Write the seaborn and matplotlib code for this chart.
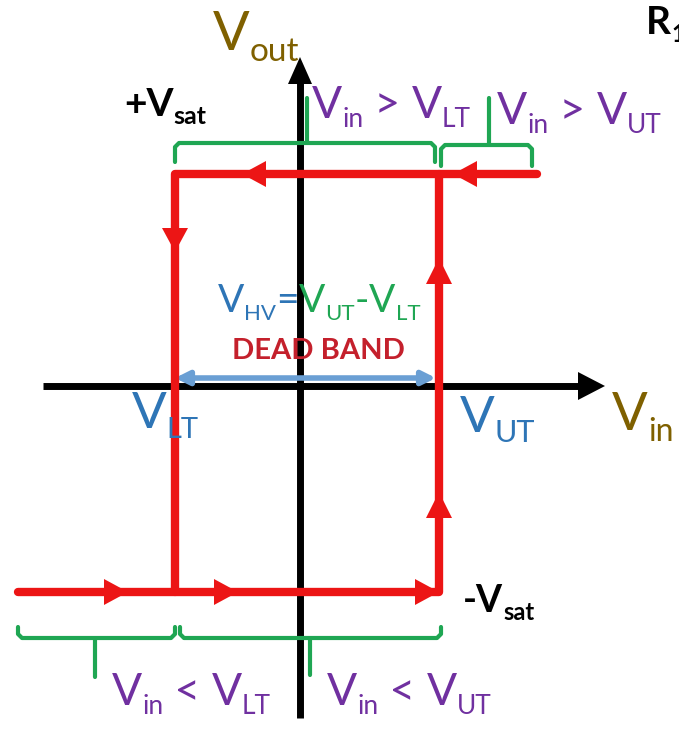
import numpy as np
import pandas as pd
import matplotlib
matplotlib.use('Agg')
import matplotlib.pyplot as plt
import seaborn as sns

# thresholds and saturation levels (plot units, origin = axis crossing)
V_LT = -1.25
V_UT = 1.39
V_SAT_POS = 2.12
V_SAT_NEG = -2.06
VIN_START = -2.82   # left end of the rising sweep
VIN_END = 2.37      # right end of the falling sweep

# the two branches of the loop
rise_vin = [VIN_START, V_UT, V_UT]
rise_vout = [V_SAT_NEG, V_SAT_NEG, V_SAT_POS]
fall_vin = [VIN_END, V_LT, V_LT]
fall_vout = [V_SAT_POS, V_SAT_POS, V_SAT_NEG]

# where the direction arrowheads sit (tip positions)
rise_flat_tips = [-1.72, -0.62, V_UT]
rise_up_tips = [-1.06, 1.28]
fall_flat_tips = [1.53, -0.58]
fall_down_tips = [1.34]

# ranges marked by the green braces
upper_ranges = [(V_LT, V_UT - 0.04), (V_UT + 0.02, 2.32)]
lower_ranges = [(VIN_START, V_LT), (V_LT + 0.05, V_UT + 0.02)]

RED = '#ec1515'
GREEN = '#1fa653'
PURPLE = '#7030a0'
BLUE = '#2e75b6'
OLIVE = '#7f6000'

sns.set_style('white')
plt.rcParams['font.family'] = ['Lato', 'DejaVu Sans']

fig = plt.figure(figsize=(6.79, 7.38), dpi=100)
ax = fig.add_axes([0, 0, 1, 1])
ax.set_xlim(-3.00, 3.79)
ax.set_ylim(-3.52, 3.86)
ax.axis('off')
renderer = fig.canvas.get_renderer()


def head(tip, direction, length, half, color, z):
    tx, ty = tip
    dx, dy = direction
    bx, by = tx - dx * length, ty - dy * length
    px, py = -dy * half, dx * half
    ax.fill([tx, bx + px, bx - px], [ty, by + py, by - py], color=color, lw=0, zorder=z)


def rich(x, y, pieces, color, weight='normal'):
    # pieces: (text, fontsize, baseline drop in points); 1 pt = 1/72 plot unit here
    for item in pieces:
        s, fs, drop = item[:3]
        c = item[3] if len(item) > 3 else color
        t = ax.text(x, y - drop / 72, s, fontsize=fs, color=c, weight=weight,
                    ha='left', va='baseline', zorder=6)
        bb = t.get_window_extent(renderer).transformed(ax.transData.inverted())
        x = bb.x1


def sub(main, low, big, small):
    return [(main, big, 0), (low, small, 0.2 * big)]


# axes
ax.plot([-2.57, 2.80], [0, 0], color='black', lw=5, solid_capstyle='butt', zorder=2)
head((3.05, 0), (1, 0), 0.27, 0.14, 'black', 2)
ax.plot([0, 0], [-3.32, 3.05], color='black', lw=5, solid_capstyle='butt', zorder=2)
head((0, 3.29), (0, 1), 0.27, 0.12, 'black', 2)

# hysteresis loop
loop = pd.DataFrame({
    'vin': rise_vin + fall_vin,
    'vout': rise_vout + fall_vout,
    'branch': ['rise'] * 3 + ['fall'] * 3,
})
sns.lineplot(data=loop, x='vin', y='vout', units='branch', estimator=None, sort=False,
             color=RED, lw=6, ax=ax, zorder=4)

for t in rise_flat_tips:
    head((t, V_SAT_NEG), (1, 0), 0.24, 0.13, RED, 5)
for t in rise_up_tips:
    head((V_UT, t), (0, 1), 0.26, 0.13, RED, 5)
for t in fall_flat_tips:
    head((t, V_SAT_POS), (-1, 0), 0.24, 0.13, RED, 5)
for t in fall_down_tips:
    head((V_LT, t), (0, -1), 0.24, 0.13, RED, 5)

# dead band arrow
ax.annotate('', xy=(V_LT, 0.08), xytext=(V_UT - 0.03, 0.08),
            arrowprops=dict(arrowstyle='<|-|>', color='#6a9fd4', lw=4,
                            mutation_scale=20, shrinkA=0, shrinkB=0), zorder=3)


def brace(x0, x1, y, y_end, tick_x, tick_y):
    r = 0.04
    xs = [x0, x0, x0 + r, x1 - r, x1, x1]
    ys = [y_end, y - np.sign(y - y_end) * r, y, y, y - np.sign(y - y_end) * r, y_end]
    ax.plot(xs, ys, color=GREEN, lw=3, solid_joinstyle='round', zorder=3)
    ax.plot([tick_x, tick_x], [y, tick_y], color=GREEN, lw=3, zorder=3)


brace(*upper_ranges[0], 2.43, 2.24, 0.07, 2.88)
brace(*upper_ranges[1], 2.41, 2.20, 1.89, 2.88)
brace(*lower_ranges[0], -2.52, -2.41, -2.05, -2.91)
brace(*lower_ranges[1], -2.52, -2.41, 0.10, -2.89)

# labels
rich(-0.87, 3.36, sub('V', 'out', 39, 24), OLIVE)
rich(3.46, 3.52, sub('R', '1', 28, 17), 'black', 'bold')
rich(-1.76, 2.70, sub('+V', 'sat', 28, 18), 'black', 'bold')

cmp_big, cmp_small = 32, 19
rich(0.12, 2.68, sub('V', 'in', cmp_big, cmp_small) + [(' > ', cmp_big, 0)]
     + sub('V', 'LT', cmp_big, cmp_small), PURPLE)
rich(1.97, 2.62, sub('V', 'in', cmp_big, cmp_small) + [(' > ', cmp_big, 0)]
     + sub('V', 'UT', cmp_big, cmp_small), PURPLE)
rich(-1.88, -3.19, sub('V', 'in', cmp_big, cmp_small) + [(' < ', cmp_big, 0)]
     + sub('V', 'LT', cmp_big, cmp_small), PURPLE)
rich(0.27, -3.19, sub('V', 'in', cmp_big, cmp_small) + [(' < ', cmp_big, 0)]
     + sub('V', 'UT', cmp_big, cmp_small), PURPLE)

rich(-0.82, 0.74, [('V', 28, 0), ('HV', 16, 5.6), ('=', 28, 0),
                   ('V', 28, 0, GREEN), ('UT', 16, 5.6, GREEN), ('-', 28, 0, GREEN),
                   ('V', 28, 0, GREEN), ('LT', 16, 5.6, GREEN)], BLUE)

ax.text(0.18, 0.27, 'DEAD BAND', color='#c4202c', fontsize=21, weight='bold',
        ha='center', va='baseline', zorder=6)
rich(-1.68, -0.42, sub('V', 'LT', 37, 21), BLUE)
rich(1.60, -0.46, sub('V', 'UT', 37, 22), BLUE)
rich(3.12, -0.44, sub('V', 'in', 38, 23), OLIVE)
rich(1.63, -2.26, sub('-V', 'sat', 27, 17), 'black', 'bold')

fig.savefig('out.png', dpi=100)
